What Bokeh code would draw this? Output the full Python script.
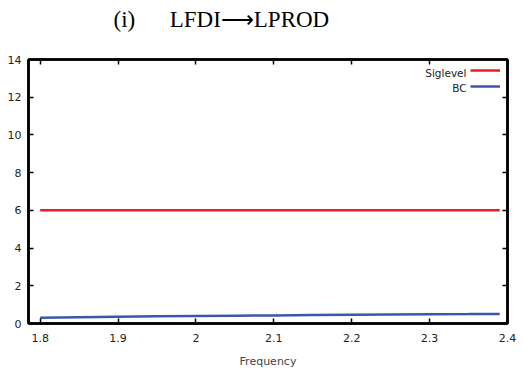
from bokeh.plotting import figure
from bokeh.models import LinearAxis, Range1d, Legend, LegendItem, FixedTicker, Label, CustomLabelingPolicy
from bokeh.embed import file_html
from bokeh.resources import INLINE

# data
frequency = [1.80, 1.85, 1.90, 1.95, 2.00, 2.05, 2.10, 2.15, 2.20, 2.25, 2.30, 2.35, 2.39]
siglevel = [6.0] * len(frequency)
bc = [0.30, 0.33, 0.36, 0.38, 0.40, 0.415, 0.43, 0.445, 0.46, 0.475, 0.49, 0.50, 0.51]
x_ticks = [1.8, 1.9, 2.0, 2.1, 2.2, 2.3, 2.4]
x_tick_labels = {1.8: "1.8", 1.9: "1.9", 2.0: "2", 2.1: "2.1", 2.2: "2.2", 2.3: "2.3", 2.4: "2.4"}
y_ticks = [0, 2, 4, 6, 8, 10, 12, 14]
title_text = "(i)\u2003\u2002LFDI\u27f6LPROD"
x_label = "Frequency"
series_names = ["Siglevel", "BC"]

RED = "#ec1c24"
BLUE = "#3b57a8"
FONT = "DejaVu Sans"

p = figure(width=524, height=374, output_backend="svg", toolbar_location=None,
           x_range=Range1d(1.785, 2.4), y_range=Range1d(0, 14),
           min_border_left=28, min_border_right=12, min_border_top=59, min_border_bottom=51,
           x_axis_location=None, y_axis_location=None)

p.title.text = title_text
p.title.text_font = "Liberation Serif"
p.title.text_font_size = "23px"
p.title.text_font_style = "normal"
p.title.align = "left"
p.title.offset = 85
p.title.standoff = 0
p.title.text_color = "black"

p.xgrid.visible = False
p.ygrid.visible = False
p.outline_line_color = "black"
p.outline_line_width = 2.5

no_labels = CustomLabelingPolicy(code="""
const all = Array.from(indices)
for (const i of all) indices.unset(i)
return indices
""")

def style_axis(ax, labels=True):
    ax.axis_line_color = "black"
    ax.axis_line_width = 2.5
    ax.major_tick_in = 5
    ax.major_tick_out = 0
    ax.major_tick_line_width = 1.5
    ax.major_tick_line_color = "black"
    ax.minor_tick_line_color = None
    ax.major_label_text_font = FONT
    ax.major_label_text_font_size = "11px"
    ax.major_label_text_color = "#222222"
    if not labels:
        ax.major_label_policy = no_labels
        ax.major_label_standoff = 0

xb = LinearAxis(ticker=FixedTicker(ticks=x_ticks), major_label_overrides=x_tick_labels)
style_axis(xb)
xb.major_label_standoff = 10
xb.axis_label = x_label
xb.axis_label_text_font = FONT
xb.axis_label_text_font_size = "11px"
xb.axis_label_text_font_style = "normal"
xb.axis_label_standoff = 10
p.add_layout(xb, "below")

yl = LinearAxis(ticker=FixedTicker(ticks=y_ticks))
style_axis(yl)
yl.major_label_standoff = 7
p.add_layout(yl, "left")

xt = LinearAxis(ticker=FixedTicker(ticks=x_ticks))
style_axis(xt, labels=False)
xt.major_label_standoff = 17
p.add_layout(xt, "above")

yr = LinearAxis(ticker=FixedTicker(ticks=y_ticks))
style_axis(yr, labels=False)
p.add_layout(yr, "right")

r1 = p.line(frequency, siglevel, line_color=RED, line_width=2.5)
r2 = p.line(frequency, bc, line_color=BLUE, line_width=2.5)

legend = Legend(items=[LegendItem(label="\u200b", renderers=[r1]), LegendItem(label="\u200b", renderers=[r2])],
                location=(442, 232), border_line_color=None, background_fill_alpha=0,
                glyph_width=30, glyph_height=10, label_width=0, label_standoff=0,
                spacing=5, padding=0, margin=0, label_text_font_size="10px")
p.add_layout(legend)

for i, name in enumerate(series_names):
    p.add_layout(Label(x=438, y=251 - 15 * i, x_units="screen", y_units="screen",
                       text=name, text_align="right", text_baseline="middle",
                       text_font=FONT, text_font_size="10.5px", text_color="#222222"))

open("out.html", "w").write(file_html(p, INLINE))
